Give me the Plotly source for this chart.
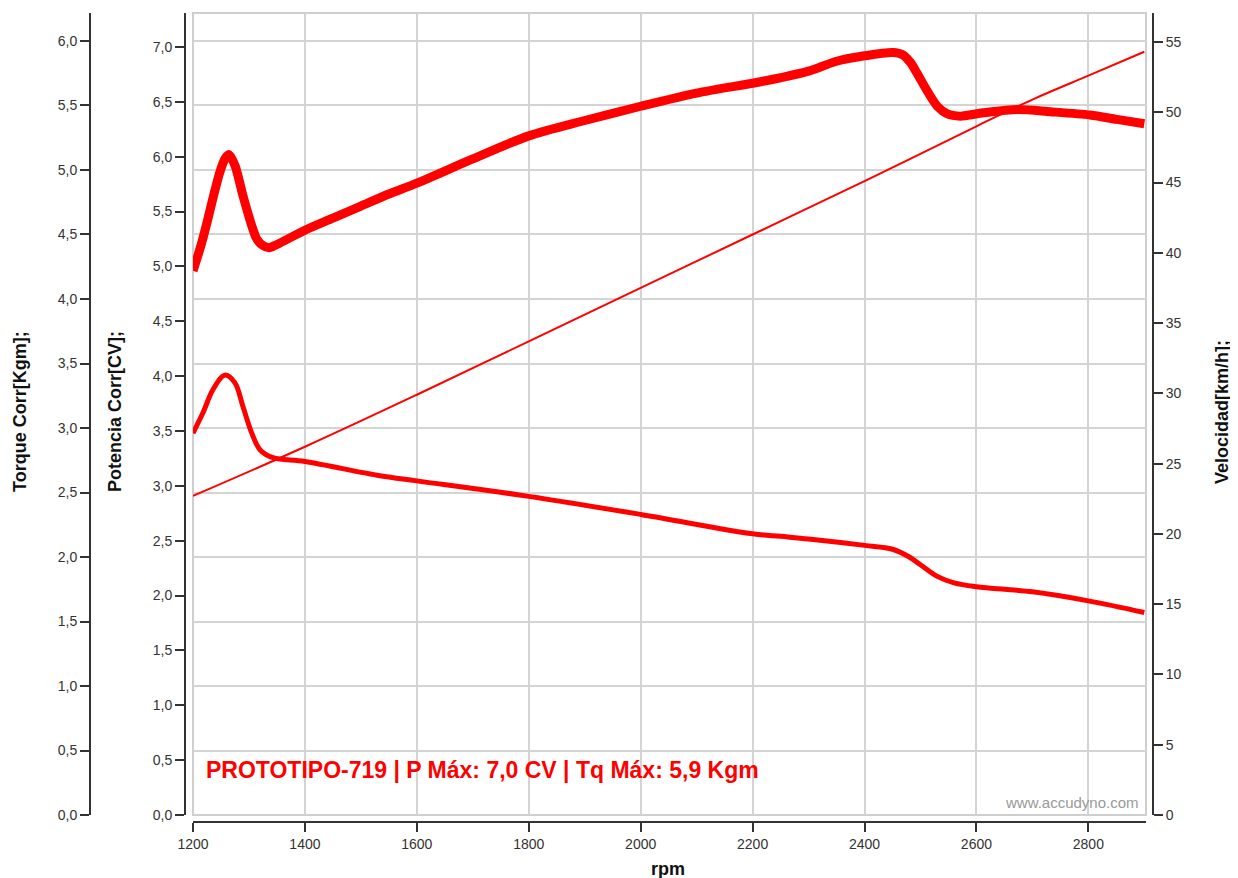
import plotly.graph_objects as go

# curva de potencia (CV)
rpm_pot = [1200, 1213, 1225, 1236, 1248, 1257, 1264, 1275, 1289, 1302, 1314, 1325,
           1336, 1350, 1400, 1450, 1500, 1550, 1600, 1700, 1800, 1900, 2000, 2100,
           2200, 2250, 2300, 2350, 2400, 2451, 2468, 2482, 2494, 2512, 2530, 2548,
           2571, 2612, 2673, 2732, 2803, 2851, 2900]
potencia = [4.96, 5.17, 5.40, 5.63, 5.86, 5.98, 6.02, 5.92, 5.65, 5.42, 5.25, 5.19,
            5.17, 5.20, 5.33, 5.44, 5.55, 5.66, 5.76, 5.98, 6.19, 6.33, 6.46, 6.58,
            6.67, 6.72, 6.78, 6.87, 6.92, 6.95, 6.93, 6.86, 6.76, 6.60, 6.46, 6.39,
            6.37, 6.40, 6.43, 6.41, 6.38, 6.34, 6.30]

# curva de torque (Kgm)
rpm_tq = [1200, 1218, 1236, 1257, 1275, 1289, 1305, 1320, 1343, 1400, 1534, 1600,
          1800, 2000, 2200, 2250, 2300, 2400, 2450, 2480, 2500, 2530, 2560, 2600,
          2700, 2800, 2900]
torque = [2.96, 3.12, 3.30, 3.41, 3.35, 3.17, 2.96, 2.83, 2.77, 2.74, 2.63, 2.59,
          2.47, 2.33, 2.18, 2.16, 2.14, 2.09, 2.06, 2.00, 1.94, 1.85, 1.80, 1.77,
          1.73, 1.66, 1.57]

# velocidad (km/h)
rpm_vel = [1200, 1400, 1600, 1800, 2000, 2200, 2400, 2600, 2700, 2800, 2900]
velocidad = [22.7, 26.2, 29.9, 33.7, 37.5, 41.3, 45.1, 49.0, 50.9, 52.6, 54.3]

x_ticks = [1200, 1400, 1600, 1800, 2000, 2200, 2400, 2600, 2800]

# the page body has an 8px margin, so the figure is 8px smaller and shifted
OFF = 8
W, H = 1238 - OFF, 878 - OFF
def px(x):
    return (x - OFF) / W
def py(y):
    return (H - (y - OFF)) / H

tick_font = dict(family="Liberation Sans, Arial", size=14, color="#333333")
title_font = dict(family="Liberation Sans, Arial", size=18, color="#111111")
axis_style = dict(showline=True, linecolor="#333333", linewidth=2, ticks="outside",
                  tickcolor="#333333", tickwidth=2, ticklen=9, tickfont=tick_font,
                  zeroline=False, automargin=False)

fig = go.Figure()
fig.add_trace(go.Scatter(x=rpm_vel, y=velocidad, yaxis="y3", mode="lines",
                         line=dict(color="#ff0000", width=2, shape="spline"),
                         showlegend=False))
fig.add_trace(go.Scatter(x=rpm_tq, y=torque, yaxis="y", mode="lines",
                         line=dict(color="#ff0000", width=5, shape="spline"),
                         showlegend=False))
fig.add_trace(go.Scatter(x=rpm_pot, y=potencia, yaxis="y2", mode="lines",
                         line=dict(color="#ff0000", width=9, shape="spline",
                                   smoothing=0.8),
                         showlegend=False))

fig.update_layout(
    template="none",
    width=W, height=H,
    margin=dict(l=0, r=0, t=0, b=0, autoexpand=False),
    paper_bgcolor="white", plot_bgcolor="white",
    separators=",.",
    xaxis=dict(domain=[px(193), px(1146)], range=[1200, 2903], anchor="free",
               position=py(822), tickvals=x_ticks, showgrid=True,
               gridcolor="#d4d4d4", gridwidth=2, **axis_style),
    yaxis=dict(domain=[py(815), py(13)], range=[0, 6.217], anchor="free",
               position=px(90), dtick=0.5, tick0=0, tickformat=".1f",
               showgrid=True, gridcolor="#d4d4d4", gridwidth=2, **axis_style),
    yaxis2=dict(domain=[py(815), py(13)], range=[0, 7.31], anchor="free",
                overlaying="y", side="left", position=px(185), dtick=0.5, tick0=0,
                tickformat=".1f", showgrid=False, **axis_style),
    yaxis3=dict(domain=[py(815), py(13)], range=[0, 57.06], anchor="free",
                overlaying="y", side="right", position=px(1153), dtick=5, tick0=0,
                showgrid=False, **axis_style),
)

# marco del area de trazado
fig.add_shape(type="rect", xref="paper", yref="paper",
              x0=px(193), x1=px(1146), y0=py(815), y1=py(13),
              line=dict(color="#cfcfcf", width=2), layer="below")

ann = [
    dict(text="<b>Torque Corr[Kgm];</b>", x=px(20), y=py(412), textangle=-90,
         font=title_font),
    dict(text="<b>Potencia Corr[CV];</b>", x=px(115), y=py(412), textangle=-90,
         font=title_font),
    dict(text="<b>Velocidad[km/h];</b>", x=px(1222), y=py(412), textangle=-90,
         font=title_font),
    dict(text="<b>rpm</b>", x=px(668), y=py(869), font=title_font),
]
for a in ann:
    fig.add_annotation(xref="paper", yref="paper", showarrow=False,
                       xanchor="center", yanchor="middle", **a)

fig.add_annotation(xref="paper", yref="paper", x=px(204), y=py(770),
                   xanchor="left", yanchor="middle", showarrow=False,
                   text="<b>PROTOTIPO-719 | P Máx: 7,0 CV | Tq Máx: 5,9 Kgm</b>",
                   font=dict(family="Liberation Sans, Arial", size=23, color="#ff0000"))
fig.add_annotation(xref="paper", yref="paper", x=px(1141), y=py(802),
                   xanchor="right", yanchor="middle", showarrow=False,
                   text="www.accudyno.com",
                   font=dict(family="Liberation Sans, Arial", size=15, color="#999999"))

fig.write_html("out.html")
